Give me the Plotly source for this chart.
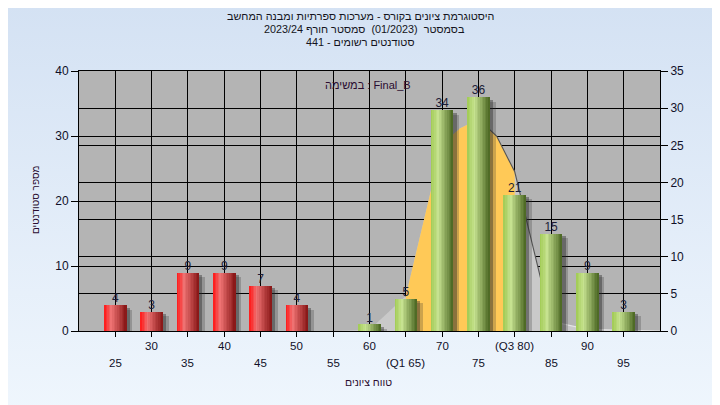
import base64
import plotly.graph_objects as go

# ---------------- data ----------------
CATS = [25, 30, 35, 40, 45, 50, 55, 60, 65, 70, 75, 80, 85, 90, 95]
COUNTS = [4, 3, 9, 9, 7, 4, 0, 1, 5, 34, 36, 21, 15, 9, 3]
X_LABELS = ["25", "30", "35", "40", "45", "50", "55", "60", "(Q1 65)",
            "70", "75", "(Q3 80)", "85", "90", "95"]
PASS_MARK = 55
Q1, Q3 = 65, 80
CURVE_X = [55, 60, 65, 70, 72.5, 75, 77.5, 80, 85, 90, 95, 100]
CURVE_Y = [0, 0.2, 5.4, 28.8, 31.2, 32.6, 30.0, 24.5, 1.5, 0.25, 0.1, 0]
LEFT_TICKS = [0, 10, 20, 30, 40]
RIGHT_TICKS = [0, 5, 10, 15, 20, 25, 30, 35]
TITLE_LINES = [
    "היסטוגרמת ציונים בקורס - מערכות ספרתיות ומבנה המחשב",
    "בסמסטר  (01/2023)  סמסטר חורף 2023/24",
    "סטודנטים רשומים - 441",
]
LEGEND_TEXT = "במשימה : Final_B"
X_TITLE = "טווח ציונים"
Y_TITLE = "מספר סטודנטים"

# ---------------- layout geometry ----------------
W, H = 720, 405
# observed placement of the paper area in the rendered page
PAPER_X0, PAPER_W = 8.0, 720.0
PAPER_Y0, PAPER_H = 16.4, 388.0
PX0, PX1, PY0, PY1 = 79, 660, 72, 330
FONT = "Liberation Sans, Arial, DejaVu Sans, sans-serif"


def px(x):
    return (x - PAPER_X0) / PAPER_W


def py(y):
    return 1 - (y - PAPER_Y0) / PAPER_H


BAR_W = 3.1
N_SLICES = 14
RED_STOPS = [(0.0, (255, 22, 22)), (0.32, (238, 114, 114)), (1.0, (134, 20, 20))]
GREEN_STOPS = [(0.0, (160, 202, 82)), (0.32, (198, 226, 144)), (1.0, (72, 100, 32))]


def grad(stops, t):
    for (p0, c0), (p1, c1) in zip(stops[:-1], stops[1:]):
        if p0 <= t <= p1:
            f = (t - p0) / (p1 - p0)
            return "rgb(%d,%d,%d)" % tuple(round(a + (b - a) * f) for a, b in zip(c0, c1))
    return "rgb(%d,%d,%d)" % stops[-1][1]


fig = go.Figure()

# normal-like curve (base subplot, below bars)
fig.add_trace(go.Scatter(x=CURVE_X, y=CURVE_Y, mode="lines", line=dict(width=0, color="#C8C8C8"),
                         fill="tozeroy", fillcolor="#C9C9C9", hoverinfo="skip", showlegend=False))
qx = [x for x in CURVE_X if Q1 <= x <= Q3]
qy = [y for x, y in zip(CURVE_X, CURVE_Y) if Q1 <= x <= Q3]
fig.add_trace(go.Scatter(x=qx, y=qy, mode="lines", line=dict(width=0, color="#FFC957"),
                         fill="tozeroy", fillcolor="#FFC957", hoverinfo="skip", showlegend=False))
lx = [x for x in CURVE_X if 75 <= x <= 85]
ly = [y for x, y in zip(CURVE_X, CURVE_Y) if 75 <= x <= 85]
fig.add_trace(go.Scatter(x=lx, y=ly, mode="lines", line=dict(width=1.1, color="#555555"),
                         hoverinfo="skip", showlegend=False))
tx = [x for x in CURVE_X if x >= 85]
ty = [y for x, y in zip(CURVE_X, CURVE_Y) if x >= 85]
fig.add_trace(go.Scatter(x=tx, y=ty, mode="lines", line=dict(width=1.2, color="#E6E6E6"),
                         hoverinfo="skip", showlegend=False))

# invisible trace to show right axis
fig.add_trace(go.Scatter(x=[CATS[0]], y=[0], yaxis="y2", mode="markers",
                         marker=dict(opacity=0), hoverinfo="skip", showlegend=False))

# shadows
for off, col, base in [(0.8, "rgba(40,40,40,0.24)", -0.7), (0.45, "rgba(40,40,40,0.4)", -0.45)]:
    fig.add_trace(go.Bar(x=CATS, y=COUNTS, base=base, yaxis="y3", width=BAR_W,
                         offset=-BAR_W / 2 + off, marker=dict(color=col, line=dict(width=0)),
                         hoverinfo="skip", showlegend=False))

# cylinder-shaded bars (vertical slices)
sw = BAR_W / N_SLICES
for i in range(N_SLICES):
    t = (i + 0.5) / N_SLICES
    cols = [grad(RED_STOPS if c < PASS_MARK else GREEN_STOPS, t) for c in CATS]
    fig.add_trace(go.Bar(x=CATS, y=COUNTS, yaxis="y3",
                         width=sw * (1.6 if i < N_SLICES - 1 else 1.0),
                         offset=-BAR_W / 2 + i * sw,
                         marker=dict(color=cols, line=dict(width=0)),
                         hoverinfo="skip", showlegend=False))

# value labels
fig.add_trace(go.Scatter(x=CATS, y=COUNTS, yaxis="y3", mode="text",
                         text=[str(c) if c > 0 else "" for c in COUNTS],
                         textposition="top center", cliponaxis=False,
                         textfont=dict(family=FONT, size=12, color="#1c1c36"),
                         hoverinfo="skip", showlegend=False))

# background gradient
svg = ('<svg xmlns="http://www.w3.org/2000/svg" width="720" height="405" preserveAspectRatio="none">'
       '<defs><linearGradient id="g" x1="0" y1="0" x2="0" y2="1">'
       '<stop offset="0" stop-color="#D3E1F3"/><stop offset="1" stop-color="#EFF6FD"/>'
       '</linearGradient></defs><rect width="720" height="405" fill="url(#g)"/></svg>')
src = "data:image/svg+xml;base64," + base64.b64encode(svg.encode()).decode()

annotations = []
for i, (t, yy) in enumerate(zip(TITLE_LINES, [17, 30, 43])):
    annotations.append(dict(text=t, x=px(360 + (4 if i == 1 else 0)), y=py(yy), xref="paper", yref="paper",
                            showarrow=False, xanchor="center", yanchor="middle",
                            font=dict(family=FONT, size=10.8, color="#141420")))
for i, (c, lab) in enumerate(zip(CATS, X_LABELS)):
    annotations.append(dict(text=lab, x=c, y=py(362 if i % 2 == 0 else 345), xref="x", yref="paper",
                            showarrow=False, xanchor="center", yanchor="middle",
                            font=dict(family=FONT, size=11.5, color="#101028")))
annotations.append(dict(text=LEGEND_TEXT, x=px(368), y=py(86), xref="paper", yref="paper",
                        showarrow=False, xanchor="center", yanchor="middle",
                        font=dict(family=FONT, size=11, color="#2a0c30")))
annotations.append(dict(text=X_TITLE, x=px(368), y=py(381), xref="paper", yref="paper",
                        showarrow=False, xanchor="center", yanchor="middle",
                        font=dict(family=FONT, size=10.5, color="#2a0c30")))
annotations.append(dict(text=Y_TITLE, x=px(35), y=py(200), xref="paper", yref="paper",
                        showarrow=False, xanchor="center", yanchor="middle", textangle=-90,
                        font=dict(family=FONT, size=10, color="#2a0c30")))

axis_common = dict(showgrid=True, gridcolor="black", gridwidth=1, zeroline=False,
                   showline=True, linecolor="black", linewidth=1,
                   ticks="outside", tickcolor="black", ticklen=7,
                   tickfont=dict(family=FONT, size=12, color="#101028"), fixedrange=True)

fig.update_layout(
    width=W, height=H, autosize=False,
    margin=dict(l=0, r=0, t=0, b=0),
    paper_bgcolor="#D3E1F3", plot_bgcolor="rgba(0,0,0,0)",
    barmode="overlay", bargap=0,
    showlegend=False,
    xaxis=dict(domain=[px(PX0), px(PX1)], range=[20, 100], tickvals=CATS, showticklabels=False,
               showgrid=True, gridcolor="black", gridwidth=1, zeroline=False,
               showline=True, linecolor="black", mirror=True,
               ticks="outside", ticklen=5, tickcolor="black", fixedrange=True, anchor="y"),
    yaxis=dict(domain=[py(PY1), py(PY0)], range=[0, 40], tickvals=LEFT_TICKS, anchor="x", **axis_common),
    yaxis2=dict(overlaying="y", side="right", range=[0, 35], tickvals=RIGHT_TICKS, anchor="x", **axis_common),
    yaxis3=dict(overlaying="y", range=[0, 40], visible=False, fixedrange=True),
    images=[dict(source=src, xref="paper", yref="paper", x=-0.03, y=1.06, sizex=1.06, sizey=1.08,
                 sizing="stretch", xanchor="left", yanchor="top", layer="below")],
    shapes=[dict(type="rect", xref="paper", yref="paper", x0=px(PX0), x1=px(PX1), y0=py(PY1), y1=py(PY0),
                 fillcolor="#B4B4B4", line=dict(width=0), layer="below")],
    annotations=annotations,
)

fig.write_html("out.html")
